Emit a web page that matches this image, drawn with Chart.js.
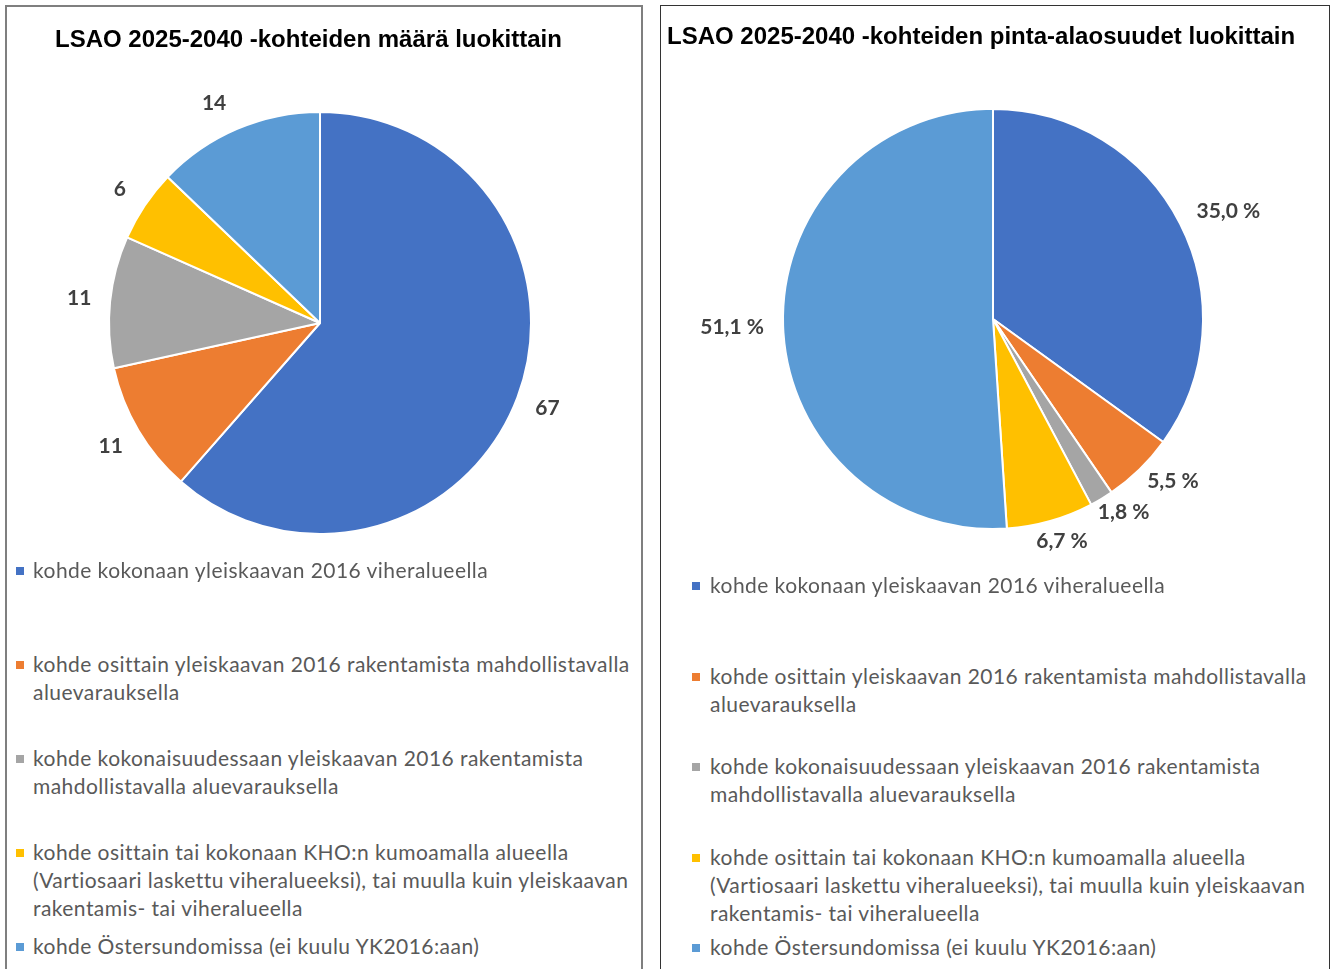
<!DOCTYPE html>
<html><head><meta charset="utf-8">
<script src="https://cdn.jsdelivr.net/npm/chart.js@4.4.1/dist/chart.umd.min.js"></script>
<style>
html,body{margin:0;padding:0;background:#fff;width:1337px;height:969px;overflow:hidden;position:relative;}
.panel{position:absolute;top:5px;height:1000px;box-sizing:border-box;}
#p1{left:5px;width:638px;border:2px solid #7f7f7f;}
#p2{left:660px;width:670px;border:1.5px solid #333;}
canvas{position:absolute;}
.legend{position:absolute;font-family:Lato, 'Open Sans', sans-serif;font-size:21px;letter-spacing:0.45px;color:#595959;line-height:28px;}
.legend .item{position:absolute;left:0;}
.legend .box{position:absolute;width:8px;height:8px;top:11px;}
.legend .txt{position:absolute;white-space:nowrap;}
</style>
</head><body>
<div class="panel" id="p1"></div>
<div class="panel" id="p2"></div>
<canvas id="c1" width="636" height="600" style="left:6px;top:6px;width:636px;height:600px"></canvas>
<canvas id="c2" width="668" height="600" style="left:661px;top:6px;width:668px;height:600px"></canvas>
<div class="legend" id="l1"></div>
<div class="legend" id="l2"></div>
<script>
// ---- data ----
const categories = [
  ["kohde kokonaan yleiskaavan 2016 viheralueella"],
  ["kohde osittain yleiskaavan 2016 rakentamista mahdollistavalla", "aluevarauksella"],
  ["kohde kokonaisuudessaan yleiskaavan 2016 rakentamista", "mahdollistavalla aluevarauksella"],
  ["kohde osittain tai kokonaan KHO:n kumoamalla alueella", "(Vartiosaari laskettu viheralueeksi), tai muulla kuin yleiskaavan", "rakentamis- tai viheralueella"],
  ["kohde Östersundomissa (ei kuulu YK2016:aan)"]
];
const countValues = [67, 11, 11, 6, 14];
const areaShares = [35.0, 5.5, 1.8, 6.7, 51.1];
const titleCount = "LSAO 2025-2040 -kohteiden määrä luokittain";
const titleArea = "LSAO 2025-2040 -kohteiden pinta-alaosuudet luokittain";
const sliceColors = ["#4472C4", "#ED7D31", "#A5A5A5", "#FFC000", "#5B9BD5"];

// label placement: [radial distance beyond the rim, angular nudge in degrees]
function makeLabelPlugin(format, place) {
  return {
    id: 'outsideLabels',
    afterDatasetsDraw(chart) {
      const ctx = chart.ctx;
      const meta = chart.getDatasetMeta(0);
      const ds = chart.data.datasets[0];
      ctx.save();
      ctx.font = "bold 21px Lato, 'Open Sans', sans-serif";
      ctx.fillStyle = "#404040";
      ctx.textAlign = 'center';
      ctx.textBaseline = 'middle';
      meta.data.forEach((arc, i) => {
        const p = arc.getProps(['x', 'y', 'startAngle', 'endAngle', 'outerRadius'], true);
        const mid = (p.startAngle + p.endAngle) / 2 + place[i][1] * Math.PI / 180;
        const r = p.outerRadius + place[i][0];
        ctx.fillText(format(ds.data[i]), p.x + Math.cos(mid) * r, p.y + Math.sin(mid) * r);
      });
      ctx.restore();
    }
  };
}

function makeChart(id, title, values, radius, padding, titlePad, format, place) {
  return new Chart(document.getElementById(id), {
    type: 'pie',
    data: {
      labels: categories,
      datasets: [{
        data: values,
        backgroundColor: sliceColors,
        borderColor: '#ffffff',
        borderWidth: 2
      }]
    },
    options: {
      responsive: false,
      animation: false,
      radius: radius,
      layout: { padding: padding },
      plugins: {
        legend: { display: false },
        tooltip: { enabled: false },
        title: {
          display: true,
          text: title,
          align: 'start',
          color: '#000',
          font: { family: "'Liberation Sans', Arial, sans-serif", size: 24, weight: 'bold', lineHeight: 1.2 },
          padding: titlePad
        }
      }
    },
    plugins: [makeLabelPlugin(format, place)]
  });
}

function buildLegend(chart, el, top, step, boxX, textX) {
  el.style.left = '0px';
  el.style.top = top + 'px';
  const colors = chart.data.datasets[0].backgroundColor;
  chart.data.labels.forEach((lab, i) => {
    const item = document.createElement('div');
    item.className = 'item';
    item.style.top = (i * step) + 'px';
    const box = document.createElement('div');
    box.className = 'box';
    box.style.left = boxX + 'px';
    box.style.background = colors[i];
    const txt = document.createElement('div');
    txt.className = 'txt';
    txt.style.left = textX + 'px';
    txt.innerHTML = lab.map(s => s.replace(/&/g, '&amp;').replace(/</g, '&lt;')).join('<br>');
    item.appendChild(box);
    item.appendChild(txt);
    el.appendChild(item);
  });
}

const c1 = makeChart('c1', titleCount, countValues, 211,
  { left: 49, right: 57, top: 0, bottom: 24.4 },
  { top: 19.6, bottom: 10 },
  v => String(v),
  [[32, 0], [32, 0], [31, 0], [30, 0], [33, -2.6]]);

const c2 = makeChart('c2', titleArea, areaShares, 210,
  { left: 6, right: 10, top: 0, bottom: 29.4 },
  { top: 16.6, bottom: 10 },
  v => v.toFixed(1).replace('.', ',') + ' %',
  [[49, 2.4], [32, -3.8], [23, -3], [23, -1.4], [51, 0]]);

buildLegend(c1, document.getElementById('l1'), 556, 94, 16, 33);
buildLegend(c2, document.getElementById('l2'), 571, 90.5, 692, 710);
</script>
</body></html>
